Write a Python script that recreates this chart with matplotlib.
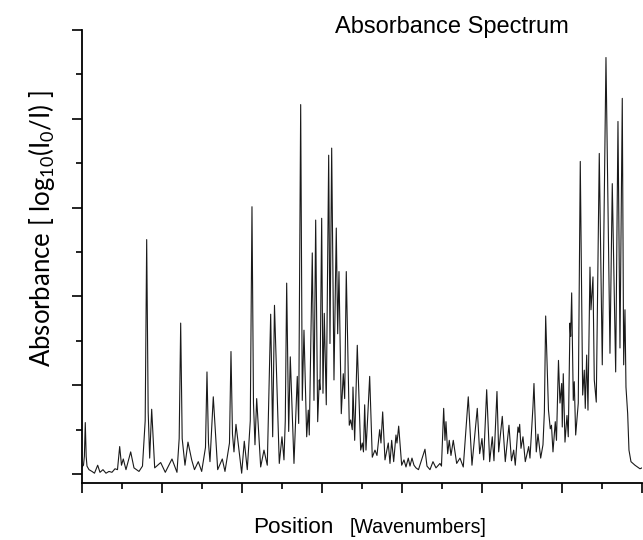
import matplotlib.pyplot as plt
from matplotlib.ticker import MultipleLocator

position = [0, 1.5, 2.4, 3.3, 4.2, 5, 7, 10, 12.5, 15.7,
            18, 21, 24, 27, 30, 33, 35.5, 37.7, 39.5, 41.3,
            44, 48.7, 52, 57, 60.5, 63.2, 64.7, 66.2, 67.7, 69.7,
            72.7, 78.7, 83.3, 90, 95, 97.2, 98.7, 100.2, 103, 106,
            109.7, 112.5, 116.3, 119.7, 123.5, 125, 126.5, 128, 131.3, 135.7,
            140.3, 143, 147.5, 149, 150.5, 152, 154, 159.7, 162.3, 165.3,
            168.3, 170, 171.5, 173, 174.7, 178.7, 182, 185.3, 188.7, 190.7,
            192.5, 197.3, 200, 202, 203.3, 204.7, 206.7, 208.3, 212, 215.3,
            216.7, 218.7, 220.3, 222, 224.7, 226.3, 227.3, 230.3, 232, 233.7,
            235.7, 237.3, 238, 239.7, 241, 242.3, 244.3, 246.7, 248, 249.7,
            252, 254.3, 255.7, 257, 259.3, 261.3, 262.7, 264.3, 267.3, 268.7,
            270.3, 271, 272.7, 275.3, 278.7, 280.3, 281.5, 282.7, 284, 285.7,
            287.7, 290.3, 293, 295, 297.7, 299, 300.7, 303, 306.3, 308,
            309.7, 311.7, 314, 315, 316.7, 319.7, 322, 324, 326.3, 328,
            330, 332, 334, 336.5, 339, 343, 345, 348, 351, 354,
            358, 359.5, 361.7, 363, 364, 365.7, 367.3, 369, 371.3, 374.7,
            378, 381.3, 386.3, 390, 395.3, 397.7, 400, 401.7, 404.7, 407.7,
            410.3, 412, 415, 416.7, 420.3, 423.3, 427, 429.5, 431.7, 433.3,
            436, 437, 437.7, 439, 441, 443.3, 446.7, 448, 451, 452,
            454.3, 456, 458.7, 461, 462.4, 463.7, 466.5, 468.3, 469.5, 471,
            473.3, 474.5, 476.5, 478, 479.7, 480.3, 481.3, 483, 485, 486.3,
            488, 488.7, 489.7, 491.3, 492.3, 493.7, 496.3, 498.3, 500.7, 502.3,
            503.3, 504.7, 506, 508, 509, 511, 512.3, 514.3, 517.3, 520.3,
            524, 528, 530.3, 533.7, 536, 538, 540.3, 541.7, 543, 544,
            545.7, 547, 549, 553, 558, 560]

absorbance = [0.08, 0.10, 0.20, 0.58, 0.20, 0.09, 0.05, 0.03, 0.01, 0.10,
              0.02, 0.05, 0.01, 0.03, 0.02, 0.06, 0.05, 0.31, 0.10, 0.17,
              0.05, 0.25, 0.07, 0.03, 0.09, 0.60, 2.64, 0.70, 0.18, 0.73,
              0.07, 0.13, 0.02, 0.17, 0.02, 0.40, 1.70, 0.40, 0.10, 0.36,
              0.16, 0.05, 0.14, 0.03, 0.30, 1.15, 0.35, 0.14, 0.87, 0.05,
              0.17, 0.03, 0.35, 1.38, 0.45, 0.25, 0.56, 0.01, 0.37, 0.05,
              0.60, 3.01, 0.80, 0.33, 0.85, 0.08, 0.27, 0.10, 1.80, 0.42,
              1.90, 0.12, 0.42, 0.16, 0.60, 2.15, 0.48, 1.32, 0.12, 1.10,
              0.57, 4.16, 0.83, 1.62, 0.42, 0.72, 0.44, 2.49, 0.83, 2.86,
              0.59, 1.06, 0.95, 2.88, 0.91, 1.81, 0.78, 3.59, 1.47, 3.67,
              1.06, 2.77, 1.58, 2.28, 0.68, 1.13, 0.85, 2.28, 0.55, 0.61,
              0.50, 0.98, 0.38, 1.45, 0.27, 0.35, 0.25, 0.78, 0.27, 0.64,
              1.10, 0.19, 0.27, 0.21, 0.50, 0.35, 0.70, 0.16, 0.35, 0.12,
              0.38, 0.14, 0.44, 0.35, 0.54, 0.10, 0.16, 0.08, 0.18, 0.09,
              0.18, 0.10, 0.07, 0.05, 0.14, 0.28, 0.09, 0.05, 0.14, 0.07,
              0.12, 0.09, 0.74, 0.38, 0.59, 0.23, 0.38, 0.21, 0.38, 0.12,
              0.18, 0.08, 0.87, 0.10, 0.74, 0.23, 0.40, 0.16, 0.95, 0.14,
              0.42, 0.15, 0.93, 0.25, 0.65, 0.14, 0.55, 0.15, 0.27, 0.10,
              0.53, 0.47, 0.56, 0.29, 0.42, 0.14, 0.31, 0.18, 0.76, 1.02,
              0.25, 0.45, 0.18, 0.33, 0.70, 1.78, 0.72, 0.51, 0.55, 0.25,
              0.59, 0.38, 1.28, 0.80, 1.02, 0.53, 1.13, 0.36, 0.66, 0.42,
              1.70, 1.55, 2.04, 0.83, 1.04, 0.44, 0.80, 3.52, 0.89, 1.17,
              0.74, 1.34, 0.72, 2.33, 1.85, 2.22, 1.06, 0.81, 3.61, 1.23,
              4.69, 1.36, 3.27, 1.15, 3.97, 1.42, 4.23, 1.23, 1.85, 0.98,
              0.68, 0.27, 0.14, 0.10, 0.06, 0.07]

fig = plt.figure(figsize=(6.43, 5.4), dpi=100)
ax = fig.add_axes([0.1275, 0.1056, 0.8709, 0.8389])

ax.plot(position, absorbance, color='#1a1a1a', lw=0.8)

ax.set_xlim(0, 560)
ax.set_ylim(-0.1, 5.0)

ax.spines['top'].set_visible(False)
ax.spines['right'].set_visible(False)
ax.spines['left'].set_linewidth(1.3)
ax.spines['bottom'].set_linewidth(1.3)

ax.xaxis.set_major_locator(MultipleLocator(80))
ax.xaxis.set_minor_locator(MultipleLocator(40))
ax.yaxis.set_major_locator(MultipleLocator(1))
ax.yaxis.set_minor_locator(MultipleLocator(0.5))
ax.tick_params(which='major', direction='out', length=7, width=1.2,
               labelbottom=False, labelleft=False)
ax.tick_params(which='minor', direction='out', length=4, width=1.2)

fig.text(0.702, 0.939, 'Absorbance Spectrum', family='Liberation Sans',
         fontsize=17, ha='center', va='baseline')

plt.rcParams['mathtext.default'] = 'regular'
fig.text(0.065, 0.576, r'Absorbance [ log$_{10}$(I$_0$/I) ]', family='Lato',
         fontsize=18.5, rotation=90, ha='center', va='center')

fig.text(0.3935, 0.013, 'Position', family='Liberation Sans', fontsize=16.2,
         ha='left', va='baseline')
fig.text(0.544, 0.013, '[Wavenumbers]', family='Liberation Sans', fontsize=14.1,
         ha='left', va='baseline')

fig.savefig('out.png', dpi=100)
